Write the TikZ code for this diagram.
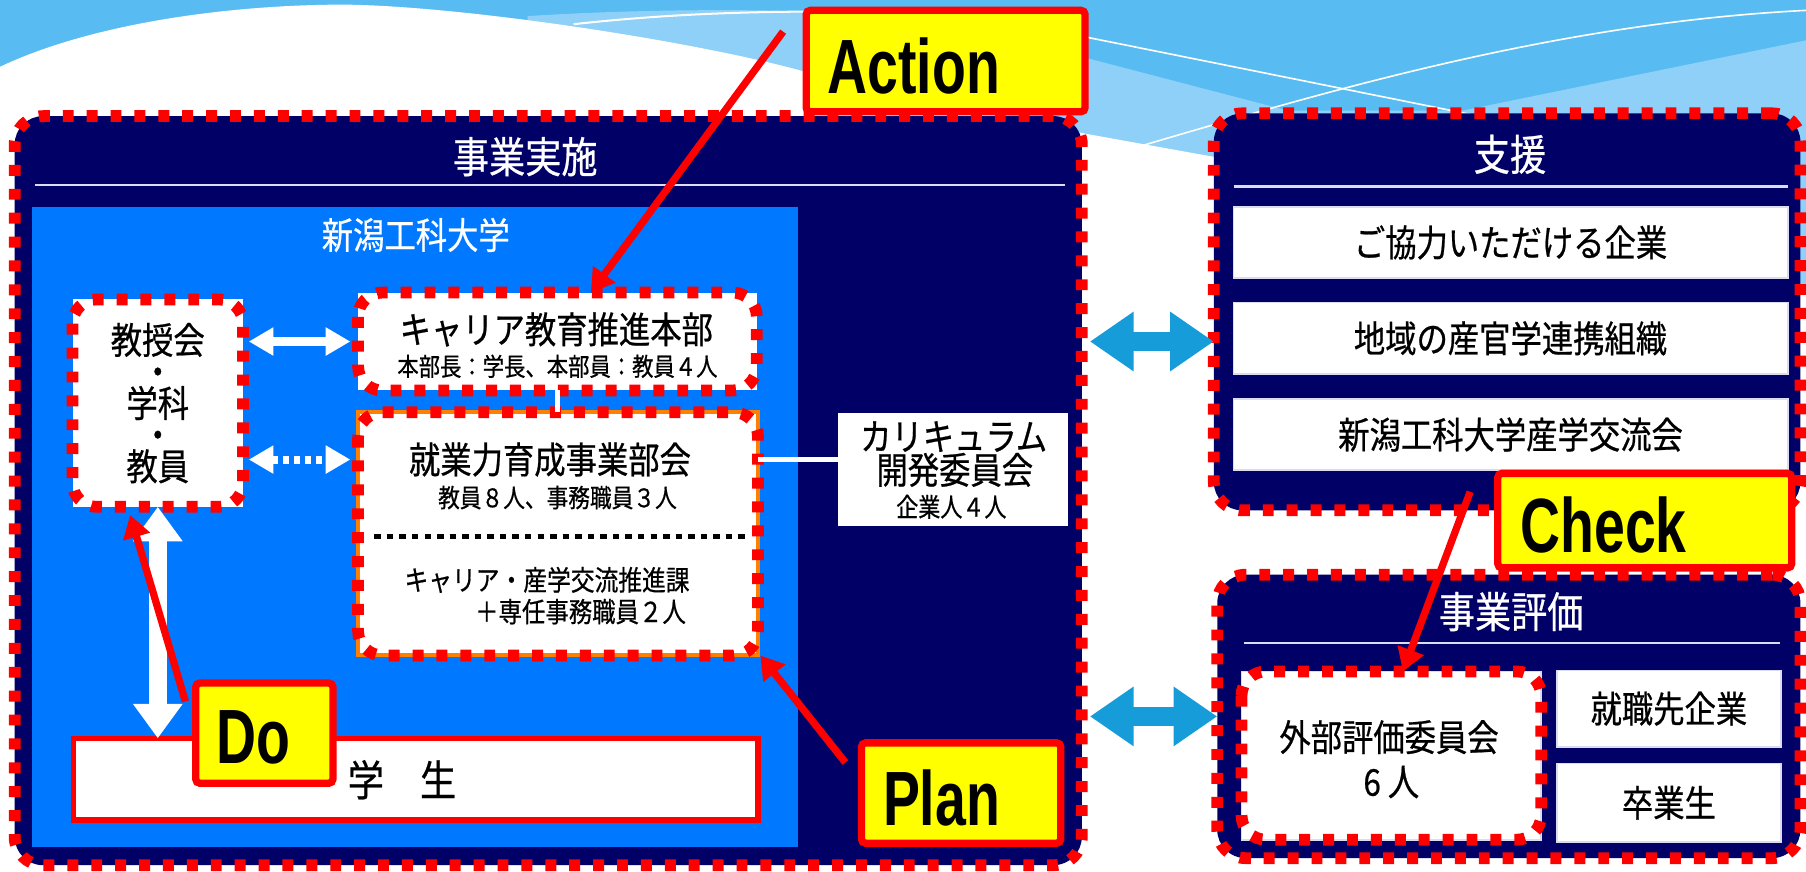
\documentclass[tikz,border=0pt]{standalone}
\usepackage{fontspec}
\usetikzlibrary{arrows.meta}
\newfontfamily\jpfont{Noto Sans CJK JP}[FakeStretch=0.85,FakeBold=0.6]
\newfontfamily\pdcafont{Liberation Sans}[FakeStretch=0.72]
\definecolor{navy}{RGB}{0,0,102}
\definecolor{unvblue}{RGB}{0,120,255}
\definecolor{pdred}{RGB}{255,0,0}
\definecolor{pdyellow}{RGB}{255,255,0}
\definecolor{frameorange}{RGB}{255,128,0}
\definecolor{linkblue}{RGB}{22,156,216}
\definecolor{sky}{RGB}{88,188,242}
\definecolor{skylight}{RGB}{142,208,247}
\definecolor{rule}{RGB}{220,220,240}
\tikzset{
  navyframe/.style={fill=navy, draw=pdred, line width=2.9pt, dash pattern=on 2.7pt off 3.2pt, rounded corners=7pt, inner sep=0pt, outer sep=0pt},
  reddots/.style={draw=pdred, line width=2.9pt, dash pattern=on 2.7pt off 3.2pt},
  whitebox/.style={fill=white, inner sep=0pt, outer sep=0pt},
  listbox/.style={whitebox, draw=rule, line width=0.4pt},
  pdcabox/.style={fill=pdyellow, draw=pdred, line width=1.8pt, rounded corners=1pt, inner sep=0pt, outer sep=0pt},
  pdcatext/.style={font=\pdcafont\bfseries\fontsize{19pt}{19pt}\selectfont, inner sep=0pt, anchor=west},
  jp/.style={font=\jpfont\fontsize{#1}{#1}\selectfont, inner sep=0pt},
  wtxt/.style={jp=#1, text=white},
  wline/.style={white, line width=1.4pt},
  warrow/.style={white, line width=2pt, {Triangle[length=6.1pt,width=6.6pt]}-{Triangle[length=6.1pt,width=6.6pt]}},
  wdots/.style={warrow, dash pattern=on 1.6pt off 1.1pt},
  wbig/.style={white, line width=4.5pt, {Triangle[length=8.5pt,width=11.7pt]}-{Triangle[length=8.5pt,width=11.7pt]}},
  linkarrow/.style={linkblue, line width=4.5pt, {Triangle[length=10.8pt,width=14pt]}-{Triangle[length=10.8pt,width=14pt]}},
  redarrow/.style={pdred, line width=1.8pt, -{Triangle[length=5.6pt,width=6.6pt]}}
}
\begin{document}
\begin{tikzpicture}[x=0.01cm,y=-0.01cm]
        \useasboundingbox (0,0) rectangle (1568,757);
        % Sky
        \fill[sky] (0,0) rectangle (1568,300);
        \fill[skylight] (458,14) .. controls (550,8) and (650,8) .. (698,10) -- (942,50) -- (1118,96)
          -- (1270,96) -- (1568,35) -- (1568,300) -- (458,300) -- cycle;
        \fill[white] (0,58) .. controls (80,20) and (200,4) .. (299,4) .. controls (400,5) and (600,35) .. (698,62)
          -- (942,116) -- (1053,136) -- (1568,250) -- (1568,757) -- (0,757) -- cycle;
        \draw[white, line width=0.5pt] (498,21) .. controls (580,12) and (650,10) .. (720,10);
        \draw[white, line width=0.4pt] (942,32) -- (1300,104);
        \draw[white, line width=0.4pt] (993,126) .. controls (1150,80) and (1350,20) .. (1568,9);

        % Frames
        \node[navyframe, minimum width=9.26cm, minimum height=6.5cm] (impl) at (476,426) {};
        \node[navyframe, minimum width=5.09cm, minimum height=3.445cm] (shien) at (1308.5,270.75) {};
        \node[navyframe, minimum width=5.06cm, minimum height=2.46cm] (hyoka) at (1310,622) {};
        \draw[rule, line width=0.6pt] (30,160.7) -- (925,160.7);
        \draw[rule, line width=0.6pt] (1071,162) -- (1552,162);
        \draw[rule, line width=0.6pt] (1080,558.5) -- (1545,558.5);
        \node[fill=unvblue, inner sep=0pt, outer sep=0pt, minimum width=6.65cm, minimum height=5.554cm] (univ) at (360.5,457.3) {};

        % Boxes
        \node[whitebox, minimum width=1.48cm, minimum height=1.8cm] (kyo) at (137,350) {};
        \node[whitebox, minimum width=3.46cm, minimum height=0.85cm] (honbu) at (484,296.5) {};
        \node[whitebox, draw=frameorange, line width=1pt, minimum width=3.47cm, minimum height=2.11cm] (shugyo) at (484.5,463.5) {};
        \node[whitebox, draw=pdred, line width=1.3pt, minimum width=5.94cm, minimum height=0.71cm] (gakusei) at (361,676.5) {};
        \node[whitebox, minimum width=1.99cm, minimum height=0.98cm] (curri) at (827.5,408) {};
        \node[listbox, minimum width=4.81cm, minimum height=0.62cm] (s1) at (1311.5,210.5) {};
        \node[listbox, minimum width=4.81cm, minimum height=0.62cm] (s2) at (1311.5,293.75) {};
        \node[listbox, minimum width=4.81cm, minimum height=0.62cm] (s3) at (1311.5,377.3) {};
        \node[listbox, minimum width=2.6cm, minimum height=1.46cm] (gaibu) at (1208,656) {};
        \node[listbox, minimum width=1.94cm, minimum height=0.665cm] (shushoku) at (1449,615.25) {};
        \node[listbox, minimum width=1.94cm, minimum height=0.68cm] (sotsu) at (1449,697) {};
        \foreach \b in {kyo,honbu,shugyo,gaibu}
        {
          \draw[reddots, rounded corners=6pt] (\b.north west) rectangle (\b.south east);
        }
        \draw[black, line width=1.2pt, dash pattern=on 1.6pt off 1.5pt] (325,466) -- (652,466);

        % Texts
        \node[wtxt=10.5pt] (implttl) at (456,136) {事業実施};
        \node[wtxt=9.1pt] (univttl) at (361,204) {新潟工科大学};
        \node[font=\jpfont\fontsize{9.1pt}{7.8pt}\selectfont, align=center, inner sep=0pt] (kyotxt) at (137,350) {教授会\\・\\学科\\・\\教員};
        \node[jp=9.1pt] (honbuttl) at (483,286) {キャリア教育推進本部};
        \node[jp=6.2pt] (honbusub) at (484,318) {本部長：学長、本部員：教員４人};
        \node[jp=9.1pt] (shttl) at (477.5,399) {就業力育成事業部会};
        \node[jp=6.3pt] (shsub) at (484,432) {教員８人、事務職員３人};
        \node[jp=6.9pt] (kattl) at (475,503.5) {キャリア・産学交流推進課};
        \node[jp=6.8pt] (kasub) at (504,531) {＋専任事務職員２人};
        \node[jp=9.1pt] (curri1) at (828,379) {カリキュラム};
        \node[jp=9.1pt] (curri2) at (829,408) {開発委員会};
        \node[jp=6.4pt] (curri3) at (826,440) {企業人４人};
        \node[jp=10.5pt] (gakuseitxt) at (349,677) {学　生};
        \node[wtxt=10.5pt] (shienttl) at (1311,134) {支援};
        \node[jp=9.1pt] (s1txt) at (s1) {ご協力いただける企業};
        \node[jp=9.1pt] (s2txt) at (s2) {地域の産官学連携組織};
        \node[jp=9.1pt] (s3txt) at (s3) {新潟工科大学産学交流会};
        \node[wtxt=10.5pt] (hyokattl) at (1312,531) {事業評価};
        \node[jp=9.1pt] (gaibu1) at (1206,640) {外部評価委員会};
        \node[jp=9.1pt] (gaibu2) at (1208,679) {6 人};
        \node[jp=9.1pt] (shutxt) at (shushoku) {就職先企業};
        \node[jp=9.1pt] (sotsutxt) at (sotsu) {卒業生};

        % Connectors
        \draw[wline] (honbu.south) -- (honbu.south |- shugyo.north);
        \draw[wline] (shugyo.east |- shttl) -- (curri.west |- shttl);
        \draw[warrow, shorten <=1.4pt, shorten >=1.9pt] (kyo.east |- honbu.west) -- (honbu.west);
        \draw[wdots, shorten <=1.4pt, shorten >=1.9pt] (kyo.east |- shttl) -- (shugyo.west |- shttl);
        \draw[wbig] (kyo.south) -- (gakusei.north -| kyo.south);
        \draw[linkarrow, shorten <=2pt] (impl.east |- honbu.west) -- (shien.west |- honbu.west);
        \draw[linkarrow, shorten <=2pt] (impl.east |- hyoka.west) -- (hyoka.west);

        % PDCA
        \node[pdcabox, minimum width=2.42cm, minimum height=0.88cm] (act) at (821,53) {};
        \node[pdcatext] (acttxt) at ([xshift=0.18cm,yshift=-0.04cm]act.west) {Action};
        \node[pdcabox, minimum width=2.55cm, minimum height=0.82cm] (check) at (1428,452) {};
        \node[pdcatext] (checktxt) at ([xshift=0.19cm,yshift=-0.04cm]check.west) {Check};
        \node[pdcabox, minimum width=1.19cm, minimum height=0.87cm] (do) at (229.5,636.5) {};
        \node[pdcatext] (dotxt) at ([xshift=0.17cm,yshift=-0.04cm]do.west) {Do};
        \node[pdcabox, minimum width=1.73cm, minimum height=0.87cm] (plan) at (834.5,688.5) {};
        \node[pdcatext] (plantxt) at ([xshift=0.18cm,yshift=-0.04cm]plan.west) {Plan};

        \draw[redarrow] ([xshift=-0.2cm,yshift=0.255cm]act.west) -- ([xshift=0.29cm]honbu.north);
        \draw[redarrow] ([xshift=-0.09cm,yshift=-0.16cm]do.north west) -- ([xshift=-0.24cm,yshift=-0.07cm]kyo.south);
        \draw[redarrow] ([xshift=-0.14cm,yshift=-0.17cm]plan.north west) -- ([xshift=0.02cm]shugyo.south east);
        \draw[redarrow] ([xshift=-0.24cm,yshift=0.25cm]check.west) -- ([xshift=0.1cm]gaibu.north);
\end{tikzpicture}
\end{document}
